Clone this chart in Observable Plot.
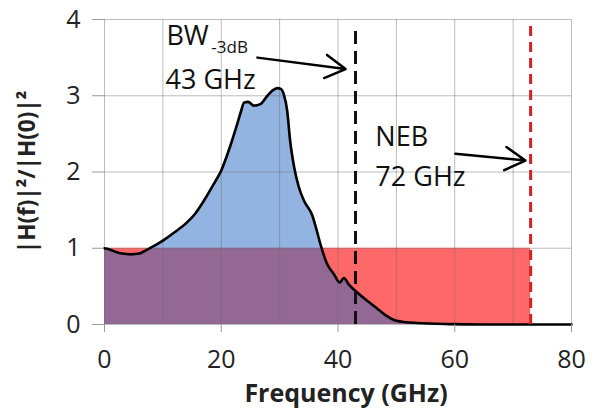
<!DOCTYPE html>
<html><head><meta charset="utf-8">
<script src="https://cdn.jsdelivr.net/npm/d3@7"></script>
<script src="https://cdn.jsdelivr.net/npm/@observablehq/plot@0.6"></script>
<style>body{margin:0;background:#fff} svg{font-family:"Open Sans",sans-serif}</style>
</head><body><div id="chart"></div>
<script>
const freqGHz = [0,1,2,3,4.5,6,7,8.5,10,12,14,15.5,17,18.7,20,21,21.8,22.7,23.4,23.9,24.6,25.6,26.7,27.9,28.8,29.6,30.2,30.7,31.3,31.8,32.5,33.3,34.2,35.6,36.3,37,38.1,39.3,40.3,41,41.8,43.3,45,46.7,48,50,53.5,59,65,80];
const response = [1.00,0.98,0.95,0.93,0.92,0.93,0.97,1.03,1.10,1.21,1.33,1.45,1.62,1.84,2.02,2.22,2.40,2.62,2.80,2.91,2.92,2.87,2.89,3.00,3.07,3.10,3.09,3.02,2.80,2.41,2.06,1.80,1.62,1.43,1.25,1.05,0.80,0.66,0.55,0.61,0.53,0.42,0.31,0.21,0.13,0.05,0.02,0.005,0,0];
const bwFreq = 43;
const nebFreq = 73;
const nebLevel = 1;
const xTicks = [0,20,40,60,80];
const xGrid = [0,10,20,30,40,50,60,70,80];
const yTicks = [0,1,2,3,4];
const xTitle = "Frequency (GHz)";
const yTitle = "|H(f)|²/|H(0)|²";

const curve = freqGHz.map((f,i)=>({f, h: response[i]}));

const chart = Plot.plot({
  width: 593, height: 411,
  marginLeft: 104, marginRight: 22, marginTop: 19, marginBottom: 87,
  x: {domain: [0,80]},
  y: {domain: [0,4]},
  style: {fontFamily: "Open Sans", fontSize: "25px", color: "#222", background: "#fff"},
  marks: [
    Plot.rectY([{x1: 0, x2: nebFreq, y: nebLevel}], {x1: "x1", x2: "x2", y: "y", fill: "#ff6868"}),
    Plot.areaY(curve, {x: "f", y: "h", fill: "rgb(39,103,193)", fillOpacity: 0.5, curve: "monotone-x"}),
    Plot.gridX(xGrid, {stroke: "#6a6a6a", strokeOpacity: 0.45, strokeWidth: 1}),
    Plot.gridY(yTicks, {stroke: "#6a6a6a", strokeOpacity: 0.45, strokeWidth: 1}),
    Plot.lineY(curve, {x: "f", y: "h", stroke: "#000", strokeWidth: 2.6, curve: "monotone-x"}),
    Plot.ruleX([bwFreq], {y1: 0, y2: 3.92, stroke: "#111", strokeWidth: 3, strokeDasharray: "13,7"}),
    Plot.ruleX([nebFreq], {y1: 0, y2: 3.95, stroke: "#d42222", strokeWidth: 3, strokeDasharray: "10,6"}),
    Plot.axisX(xTicks, {tickSize: 8, tickPadding: 18, fontSize: 25, stroke: "#999", fill: "#222", label: null, tickFormat: d => String(d)}),
    Plot.axisY(yTicks, {tickSize: 12, tickPadding: 12, fontSize: 25, stroke: "#999", fill: "#222", label: null, tickFormat: d => String(d)}),
    Plot.text([xTitle], {frameAnchor: "bottom", lineAnchor: "bottom", dx: 8, dy: 77, fontSize: 25, fontWeight: "bold", fill: "#222"}),
    Plot.text([yTitle], {x: 0, y: 2, textAnchor: "middle", lineAnchor: "middle", dx: -77, rotate: -90, fontSize: 22.5, fontWeight: "bold", fill: "#222"}),
    Plot.text(["BW"], {x: 10.6, y: 3.665, textAnchor: "start", lineAnchor: "bottom", fontSize: 27, fill: "#111"}),
    Plot.text(["-3dB"], {x: 18.3, y: 3.56, textAnchor: "start", lineAnchor: "bottom", fontSize: 17, fill: "#111"}),
    Plot.text(["43 GHz"], {x: 10.45, y: 3.09, textAnchor: "start", lineAnchor: "bottom", fontSize: 27, fill: "#111"}),
    Plot.text(["NEB"], {x: 46.4, y: 2.346, textAnchor: "start", lineAnchor: "bottom", fontSize: 27, fill: "#111"}),
    Plot.text(["72 GHz"], {x: 46.4, y: 1.82, textAnchor: "start", lineAnchor: "bottom", fontSize: 27, fill: "#111"}),
    Plot.arrow([{x1: 26.2, y1: 3.50, x2: 41.3, y2: 3.35}], {x1: "x1", y1: "y1", x2: "x2", y2: "y2", stroke: "#000", strokeWidth: 2.5, headLength: 14}),
    Plot.arrow([{x1: 60.1, y1: 2.24, x2: 72.1, y2: 2.15}], {x1: "x1", y1: "y1", x2: "x2", y2: "y2", stroke: "#000", strokeWidth: 2.5, headLength: 14})
  ]
});
document.getElementById("chart").append(chart);
</script>
</body></html>
